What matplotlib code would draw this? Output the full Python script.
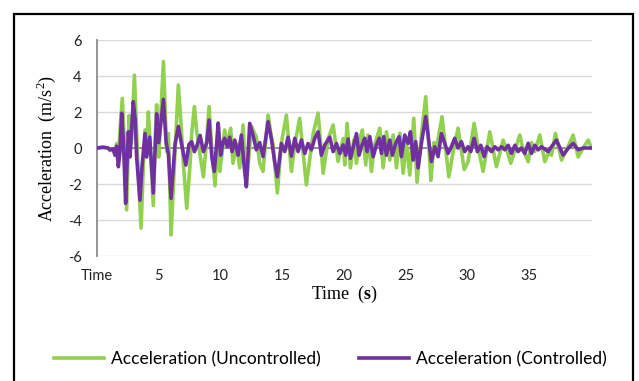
import matplotlib
matplotlib.use("Agg")
import matplotlib.pyplot as plt
from matplotlib.patches import Rectangle

# ── 데이터 (그림에서 읽은 값, 시간[s] / 가속도[m/s²]) ──
t_unc = [0, 0.5, 0.9, 1.05, 1.3, 1.46, 1.59, 1.73, 1.86, 2.05, 2.2, 2.4, 2.6, 2.78, 3.03, 3.21, 3.35,
         3.57, 3.75, 3.89, 4.02, 4.16, 4.3, 4.56, 4.7, 4.83, 5.0, 5.1, 5.38, 5.65, 5.78, 6.0, 6.32,
         6.59, 6.8, 7.0, 7.27, 7.54, 7.67, 7.89, 8.08, 8.35, 8.62, 8.89, 9.08, 9.29, 9.56, 9.83,
         9.94, 10.13, 10.34, 10.56, 10.83, 11.02, 11.29, 11.56, 11.83, 12.1, 12.51, 12.91, 13.18,
         13.45, 13.86, 14.13, 14.26, 14.61, 14.94, 15.34, 15.75, 16.02, 16.42, 16.96, 17.51, 17.91,
         18.32, 18.72, 19.13, 19.53, 19.94, 20.07, 20.26, 20.53, 20.8, 21.02, 21.29, 21.5, 21.77,
         21.96, 22.23, 22.5, 22.91, 23.18, 23.45, 23.72, 23.99, 24.26, 24.53, 24.8, 25.07, 25.34,
         25.66, 25.93, 26.28, 26.63, 27.05, 27.3, 27.5, 27.95, 28.5, 28.85, 29.25, 29.75, 30.06,
         30.55, 30.88, 31.28, 31.82, 32.36, 32.9, 33.2, 33.52, 34.25, 34.52, 34.93, 35.2, 35.47,
         35.87, 36.28, 36.55, 36.82, 37.14, 37.63, 38.11, 38.57, 38.98, 39.38, 39.79, 40.06]
a_unc = [0, 0.02, 0.0, -0.15, -0.1, -0.3, 0.25, -0.56, 0.9, 2.76, 0.5, -3.44, 1.8, 0.2, 4.05, 1.0, -1.5,
         -4.45, -1.0, 1.0, 0.0, 2.0, 0.3, -3.2, 0.2, 2.4, -0.5, 0.8, 4.8, -0.2, 0.8, -4.83, -0.2,
         3.5, 1.4, -0.9, -3.35, -0.9, 0.8, 2.3, 0.9, -0.4, -1.6, 0.5, 2.3, 0.0, -2.1, 1.4,
         -1.3, -0.3, 1.0, 0.2, 1.1, -0.85, 0.26, -1.1, 1.28, -2.05, 1.2, 0.6, -0.85,
         -1.3, 1.83, 0.6, 0.2, -2.5, 0.3, 1.83, -1.3, 0.2, 1.65, -2.05, 0.8, 1.94,
         -1.4, 0.5, 1.28, -0.75, 0.53, -0.94, 1.37, -1.1, 0.44, -0.85, 0.5, 1.0, -0.94,
         0.72, -1.3, 0.2, 1.1, -1.1, 0.9, -0.67, 0.72, -1.1, 0.82, -1.4, 0.3, -1.5,
         1.65, -1.9, 0.72, 2.85, -1.8, 0.3, 0.0, 1.74, -1.6, -0.2, 1.1, -1.2, -0.76,
         1.37, 0.0, -1.3, 0.9, -1.04, 0.44, -0.1, -0.85, 0.72, -0.1, -0.76, 0.3, -0.2,
         0.72, -0.76, -0.3, -0.4, 0.81, -0.67, 0.0, 0.72, -0.5, 0.0, 0.44, 0.0]

t_con = [0, 0.5, 0.9, 1.05, 1.3, 1.46, 1.59, 1.73, 1.86, 2.0, 2.13, 2.32, 2.45, 2.54, 2.67, 2.94, 3.1,
         3.21, 3.48, 3.65, 3.89, 4.02, 4.27, 4.56, 4.83, 5.0, 5.38, 5.6, 5.78, 6.0, 6.32, 6.59, 6.8,
         7.0, 7.2, 7.45, 7.67, 7.89, 8.08, 8.35, 8.62, 8.9, 9.08, 9.3, 9.5, 9.7, 9.81,
         10.02, 10.2, 10.34, 10.56, 10.75, 10.94, 11.16, 11.43, 11.7, 11.91, 12.1, 12.37, 12.64,
         12.91, 13.18, 13.45, 13.86, 14.13, 14.4, 14.61, 14.94, 15.21, 15.48, 15.75, 16.02, 16.29,
         16.56, 16.83, 17.1, 17.37, 17.64, 17.91, 18.18, 18.45, 18.86, 19.13, 19.4, 19.67, 19.94,
         20.15, 20.34, 20.53, 20.74, 21.02, 21.23, 21.42, 21.69, 21.88, 22.1, 22.37, 22.64, 22.86,
         23.04, 23.23, 23.45, 23.72, 23.93, 24.2, 24.47, 24.66, 24.93, 25.2, 25.39, 25.61, 25.82,
         26.01, 26.28, 26.63, 26.9, 27.09, 27.36, 27.63, 27.9, 28.17, 28.44, 28.71, 28.98, 29.25,
         29.52, 29.79, 30.06, 30.28, 30.55, 30.82, 31.09, 31.36, 31.6, 31.96, 32.23, 32.5, 32.77,
         33.04, 33.31, 33.57, 33.85, 34.11, 34.38, 34.66, 34.93, 35.2, 35.47, 35.74, 36.01, 36.55,
         36.82, 37.22, 37.76, 38.17, 38.57, 38.98, 39.38, 40.06]
a_con = [0, 0.05, 0.0, -0.1, -0.05, -0.4, 0.1, -1.04, -0.2, 1.93, 0.5, -3.07, -0.5, 0.9, -0.5, 2.57, 1.5,
         -0.5, -2.9, -1.0, 0.8, -0.5, 0.6, -2.5, 1.9, 0.3, 2.7, 0.3, -0.3, -2.8, 0.2, 1.2, 0.4,
         -0.3, -0.95, 0.2, 0.35, -0.2, 0.1, 0.7, -0.2, 0.3, 1.55, -0.5, -1.3, 0.3, 1.37,
         -0.4, 0.3, 0.54, 0.07, 0.6, -0.2, 0.44, -0.4, 0.72, -0.94, -2.15, 1.37, 0.7,
         -0.1, 0.3, -0.48, 1.46, 0.5, -0.8, -1.6, 0.25, -0.2, 0.6, -0.45, 0.54, -0.2,
         0.44, -0.3, 0.25, -0.1, 0.54, 0.9, -0.4, 0.17, 0.6, -0.2, 0.25, -0.3, 0.17,
         -0.4, 0.5, -0.57, 0.0, 0.8, -0.4, 0.07, 0.54, -0.2, 0.63, -0.48, 0.17, 0.54,
         -0.3, 0.63, -0.4, 0.44, -0.4, 0.26, 0.63, -0.48, 0.72, 0.26, 0.9, -0.67, 0.35,
         -1.1, 0.26, 1.74, 0.26, -0.75, 0.07, -0.48, 0.8, 0.26, -0.3, 0.07, 0.54, 0.0,
         0.35, -0.2, 0.07, -0.2, 0.54, -0.2, 0.15, -0.48, 0.07, -0.2, 0.07, -0.1, 0.07,
         -0.1, 0.15, -0.3, 0.15, -0.2, 0.0, -0.3, 0.26, -0.3, 0.15, -0.1, 0.07, -0.2,
         0.07, 0.44, -0.39, -0.02, 0.26, -0.1, 0.0, 0.0]

x_ticks = [0, 5, 10, 15, 20, 25, 30, 35]
x_ticklabels = ["Time", "5", "10", "15", "20", "25", "30", "35"]
y_ticks = [-6, -4, -2, 0, 2, 4, 6]

GREEN = "#92D050"
PURPLE = "#7030A0"

plt.rcParams["font.family"] = ["Lato", "DejaVu Sans"]
plt.rcParams["axes.unicode_minus"] = False
plt.rcParams["mathtext.fontset"] = "custom"
plt.rcParams["mathtext.rm"] = "Liberation Serif"
plt.rcParams["mathtext.bf"] = "Liberation Serif:bold"

fig = plt.figure(figsize=(6.39, 3.81), dpi=100)
ax = fig.add_axes([97 / 639, 1 - 256 / 381, (592 - 97) / 639, (256 - 40) / 381])

ax.plot(t_unc, a_unc, color=GREEN, lw=2.6, solid_joinstyle="round", label="Acceleration (Uncontrolled)", zorder=3)
ax.plot(t_con, a_con, color=PURPLE, lw=2.6, solid_joinstyle="round", label="Acceleration (Controlled)", zorder=4)

ax.set_xlim(0, 40.1)
ax.set_ylim(-6, 6)
ax.set_yticks(y_ticks)
ax.set_xticks(x_ticks)
ax.set_xticklabels(x_ticklabels)
ax.grid(axis="y", color="#d9d9d9", lw=1)
ax.set_axisbelow(True)
ax.axhline(0, color="#8c8c8c", lw=1.3, zorder=2)
for s in ["top", "right", "bottom"]:
    ax.spines[s].set_visible(False)
ax.spines["left"].set_color("#8c8c8c")
ax.spines["left"].set_linewidth(1.3)
ax.tick_params(axis="both", length=0, labelsize=10.5, colors="#222222")
ax.tick_params(axis="y", pad=11)
ax.tick_params(axis="x", pad=9)

ax.set_ylabel(r"Acceleration  (m/s$^2$)", family="Liberation Serif", fontsize=13, labelpad=7)
ax.set_xlabel(r"Time  $(\mathbf{s})$", family="Liberation Serif", fontsize=13, labelpad=1)

fig.legend(loc="center", bbox_to_anchor=(0.517, 0.057), ncol=2, frameon=False, fontsize=12.5,
           handlelength=2.9, columnspacing=2.2, handletextpad=0.4)

fig.patches.append(Rectangle((14 / 639, -0.02), (633 - 14) / 639, 1.02 - 14 / 381,
                             transform=fig.transFigure, fill=False, edgecolor="black", lw=1.6))

fig.savefig("out.png", dpi=100)
